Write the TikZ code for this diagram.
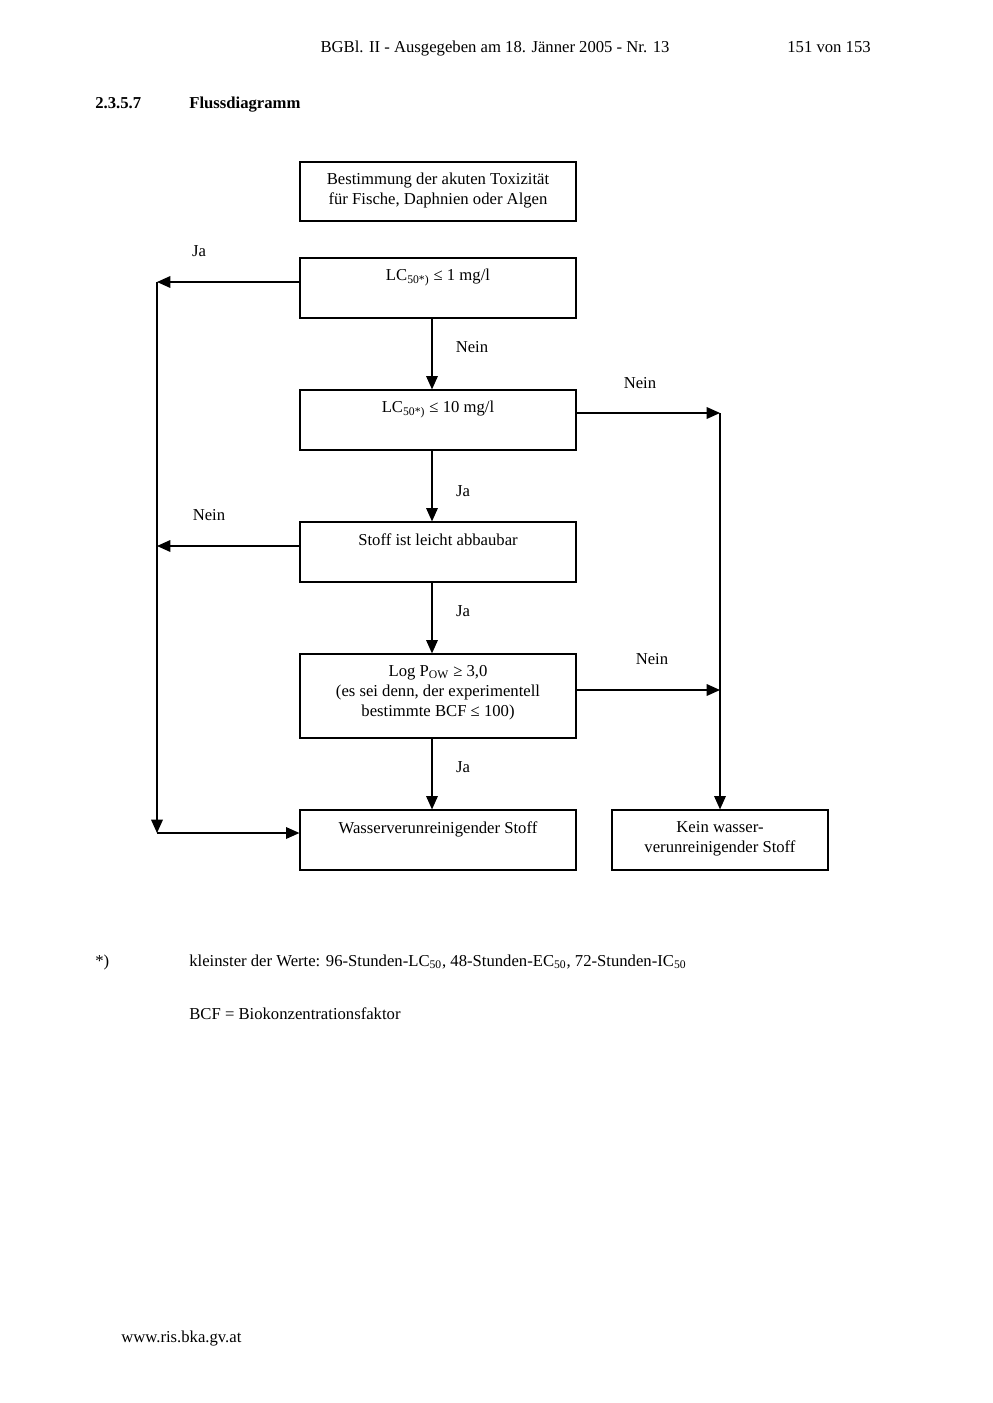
\documentclass[tikz,border=0pt]{standalone}
\usepackage{fontspec}
\setmainfont{Liberation Serif}
\usetikzlibrary{arrows.meta}

\begin{document}
\begin{tikzpicture}[x=0.6pt, y=-0.6pt,
        font=\fontsize{10}{12}\selectfont,
        box/.style={draw, line width=0.75pt, minimum width=165.6pt, minimum height=36pt, inner sep=0pt},
        boxtext/.style={anchor=north, inner xsep=2pt, inner ysep=7pt, align=center},
        flow/.style={line width=0.75pt, -{Triangle[length=8pt, width=7pt]}},
        answer/.style={inner sep=0pt}]

        % Page frame
        \useasboundingbox[fill=white] (0,0) rectangle (992,1403);

        % Header and section title
        \node[answer, anchor=base] (header) at (495,53) {BGBl. II - Ausgegeben am 18. Jänner 2005 - Nr. 13};
        \node[answer, anchor=base east] (pagenum) at (871,53) {151 von 153};
        \node[answer, anchor=base west, font=\fontsize{10}{12}\selectfont\bfseries] (secnum) at (95,109) {2.3.5.7};
        \node[answer, anchor=base west, font=\fontsize{10}{12}\selectfont\bfseries] (sectitle) at (189,109) {Flussdiagramm};

        % Boxes
        \node[box, minimum height=35.4pt, label={[boxtext]north:Bestimmung der akuten Toxizität\\für Fische, Daphnien oder Algen}] (start) at (438,191.5) {};
        \node[box, label={[boxtext]north:LC\textsubscript{50*)} ≤ 1 mg/l}] (lcone) at (438,288) {};
        \node[box, label={[boxtext]north:LC\textsubscript{50*)} ≤ 10 mg/l}] (lcten) at (438,420) {};
        \node[box, label={[boxtext]north:Stoff ist leicht abbaubar}] (stoff) at (438,552) {};
        \node[box, minimum height=50.4pt, label={[boxtext]north:Log P\textsubscript{OW} ≥ 3,0\\(es sei denn, der experimentell\\bestimmte BCF ≤ 100)}] (logpow) at (438,696) {};
        \node[box, label={[boxtext]north:Wasserverunreinigender Stoff}] (wasser) at (438,840) {};
        \node[box, minimum width=129.6pt, label={[boxtext]north:Kein wasser-\\verunreinigender Stoff}] (kein) at (720,840) {};

        % Junction points
        \coordinate (ljtop) at (157,282);
        \coordinate (ljmid) at (157,546);
        \coordinate (ljbot) at (157,833);
        \coordinate (rjtop) at (720,413);
        \coordinate (rjmid) at (720,690);

        % Main column
        \draw[flow] ([xshift=-3.6pt]lcone.south) -- ([xshift=-3.6pt]lcten.north);
        \draw[flow] ([xshift=-3.6pt]lcten.south) -- ([xshift=-3.6pt]stoff.north);
        \draw[flow] ([xshift=-3.6pt]stoff.south) -- ([xshift=-3.6pt]logpow.north);
        \draw[flow] ([xshift=-3.6pt]logpow.south) -- ([xshift=-3.6pt]wasser.north);

        % Left branch
        \draw[flow] (lcone.west |- ljtop) -- (ljtop);
        \draw[flow] (stoff.west |- ljmid) -- (ljmid);
        \draw[flow] (ljtop) -- (ljbot);
        \draw[flow] (ljbot) -- (wasser.west |- ljbot);

        % Right branch
        \draw[flow] (lcten.east |- rjtop) -- (rjtop);
        \draw[flow] (logpow.east |- rjmid) -- (rjmid);
        \draw[flow] (rjtop) -- (kein.north);

        % Answers
        \node[answer] (jaone) at (199,251) {Ja};
        \node[answer] (neinone) at (472,347) {Nein};
        \node[answer] (neintwo) at (640,383) {Nein};
        \node[answer] (jatwo) at (463,491) {Ja};
        \node[answer] (neinthree) at (209,515) {Nein};
        \node[answer] (jathree) at (463,611) {Ja};
        \node[answer] (neinfour) at (652,659) {Nein};
        \node[answer] (jafour) at (463,767) {Ja};

        % Footnotes
        \node[answer, anchor=base west] (fnmark) at (95,966) {*)};
        \node[answer, anchor=base west] (fntext) at (189,966) {kleinster der Werte: 96-Stunden-LC\textsubscript{50}, 48-Stunden-EC\textsubscript{50}, 72-Stunden-IC\textsubscript{50}};
        \node[answer, anchor=base west] (bcf) at (189,1019) {BCF = Biokonzentrationsfaktor};
        \node[answer, anchor=base west] (url) at (121,1342) {www.ris.bka.gv.at};

    \end{tikzpicture}
\end{document}
